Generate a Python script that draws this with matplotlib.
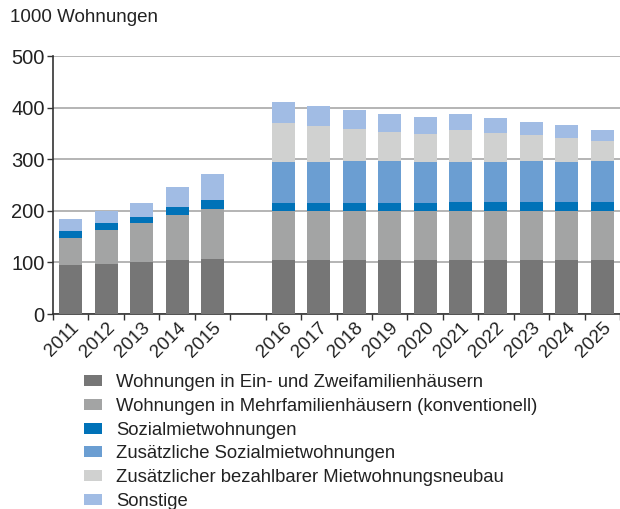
import matplotlib

matplotlib.use("Agg")
import matplotlib.pyplot as plt
import numpy as np

plt.rcParams["font.family"] = ["Liberation Sans", "DejaVu Sans"]

years = ["2011", "2012", "2013", "2014", "2015",
         "2016", "2017", "2018", "2019", "2020",
         "2021", "2022", "2023", "2024", "2025"]

ein_zwei = [95, 97, 101, 105, 107, 105, 105, 105, 105, 105, 105, 105, 105, 105, 105]
mehrfam = [53, 66, 76, 87, 97, 95, 95, 95, 95, 95, 95, 95, 95, 95, 95]
sozial = [13.5, 14, 11, 16, 17, 15.5, 15.5, 15.5, 15.5, 15.5, 17.5, 17.5, 17.5, 17.5, 17.5]
zus_sozial = [0, 0, 0, 0, 0, 79.5, 79.5, 81.5, 81.5, 79.5, 77.5, 77.5, 79.5, 77.5, 79.5]
zus_bezahlbar = [0, 0, 0, 0, 0, 76, 70, 62, 56, 54.5, 62, 56.5, 50.5, 46.5, 39]
sonstige = [23.5, 23, 27.5, 38.5, 51, 40.5, 39, 37, 35, 33, 31, 29, 25, 25.5, 21.5]

labels = [
    "Wohnungen in Ein- und Zweifamilienhäusern",
    "Wohnungen in Mehrfamilienhäusern (konventionell)",
    "Sozialmietwohnungen",
    "Zusätzliche Sozialmietwohnungen",
    "Zusätzlicher bezahlbarer Mietwohnungsneubau",
    "Sonstige",
]
colors = ["#767676", "#a3a4a4", "#0072b8", "#6b9ed2", "#d0d1d0", "#a1bce4"]

# one empty slot between 2015 and 2016
pos = np.array([0, 1, 2, 3, 4] + list(range(6, 16)), dtype=float)

fig = plt.figure(figsize=(6.2, 5.09), dpi=100)
ax = fig.add_axes([53 / 620, 1 - 314 / 509, 1 - 53 / 620, (314 - 56.3) / 509])

series = [ein_zwei, mehrfam, sozial, zus_sozial, zus_bezahlbar, sonstige]
bottom = np.zeros(len(years))
handles = []
for vals, col, lab in zip(series, colors, labels):
    vals = np.array(vals, dtype=float)
    h = ax.bar(pos, vals, width=0.65, bottom=bottom, color=col, label=lab,
               zorder=3, linewidth=0)
    handles.append(h)
    bottom += vals

ax.set_ylim(0, 500)
ax.set_xlim(-0.5, 15.42)
ax.set_yticks([0, 100, 200, 300, 400, 500])
ax.yaxis.grid(True, color="#a8a8a8", linewidth=1.2, zorder=0)
ax.tick_params(axis="y", labelsize=14.5, length=4, width=1, color="#333333",
               pad=2, labelcolor="#222222")

# boundary ticks as major, year labels as minor ticks at bar centres
ax.set_xticks(np.arange(-0.5, 16, 1.0))
ax.set_xticklabels([])
ax.tick_params(axis="x", which="major", length=4, width=1, color="#333333")
ax.set_xticks(pos, minor=True)
ax.set_xticklabels(years, minor=True, rotation=45, ha="right",
                   rotation_mode="anchor", fontsize=13.5, color="#222222")
ax.tick_params(axis="x", which="minor", length=0, pad=4)

for s in ["top", "right"]:
    ax.spines[s].set_visible(False)
for s in ["left", "bottom"]:
    ax.spines[s].set_color("#333333")
    ax.spines[s].set_linewidth(1.2)

fig.text(10 / 620, 1 - 18 / 509, "1000 Wohnungen", fontsize=13.5, va="center",
         color="#222222")

fig.legend(handles=handles, labels=labels, loc="upper left",
           bbox_to_anchor=(77 / 620, 1 - 367 / 509), frameon=False,
           fontsize=13.3, handlelength=0.95, handleheight=0.55,
           handletextpad=0.75, labelspacing=0.36, borderaxespad=0,
           labelcolor="#222222")

fig.savefig("out.png", dpi=100)
